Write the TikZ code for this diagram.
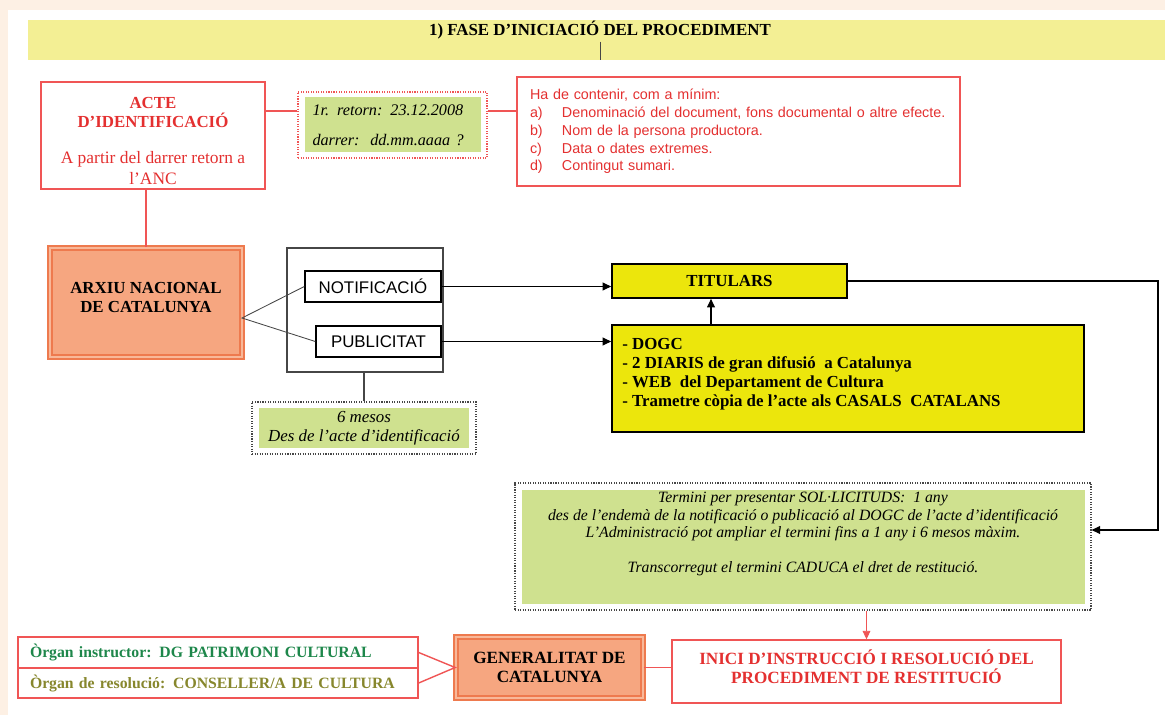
\documentclass[tikz,border=0pt]{standalone}
\usepackage{fontspec}
\setmainfont{Liberation Serif}
\newfontfamily\arialfam{Liberation Sans}
\usetikzlibrary{positioning,arrows.meta}

\definecolor{peach}{RGB}{253,240,228}
\definecolor{bandyellow}{RGB}{243,239,148}
\definecolor{redline}{RGB}{240,85,85}
\definecolor{redtext}{RGB}{228,48,48}
\definecolor{leaf}{RGB}{207,225,143}
\definecolor{ancfill}{RGB}{246,166,128}
\definecolor{ancline}{RGB}{238,122,78}
\definecolor{lemon}{RGB}{236,230,12}
\definecolor{organgreen}{RGB}{30,135,75}
\definecolor{organolive}{RGB}{135,135,45}
\definecolor{greyline}{RGB}{70,70,70}

\tikzset{
	redbox/.style={draw=redline, line width=1pt, fill=white, inner sep=0pt},
	dotbox/.style={draw=#1, densely dotted, line width=0.8pt, fill=white, inner sep=0pt},
	leafbox/.style={fill=leaf, inner sep=0pt},
	orangebox/.style={draw=ancline, double=ancfill!80!white, double distance=1.2pt, line width=1.2pt, fill=ancfill, inner sep=0pt, align=center, font=\fontsize{12}{13.5}\selectfont\bfseries},
	lemonbox/.style={draw=black, line width=1.2pt, fill=lemon, inner sep=0pt, font=\fontsize{12}{13.6}\selectfont\bfseries},
	whitebox/.style={draw=black, line width=1pt, fill=white, inner sep=0pt, font=\arialfam\fontsize{12}{14}\selectfont},
	blackarrow/.style={line width=0.8pt, -{Triangle[length=6pt,width=5.5pt]}},
	redarrow/.style={draw=redline, line width=0.6pt, -{Triangle[length=6pt,width=5.5pt]}}
}

\begin{document}
\begin{tikzpicture}
			%%%%% START %%%%%
			\useasboundingbox (0, 0) rectangle (29.125, -17.875);
			\fill[peach] (0, 0) rectangle (29.125, -17.875);
			\fill[white] (0.2, -0.25) rectangle (29.125, -17.875);
			
			% title band
			\node[fill=bandyellow, minimum width=28.425cm, minimum height=1cm, inner sep=0pt] (band) at (14.9125, -1.0) {};
			\node[font=\fontsize{12}{14}\selectfont\bfseries, inner sep=2pt] (title) at (15.0, -0.74) {1) FASE D’INICIACIÓ DEL PROCEDIMENT};
			\draw[greyline, line width=0.6pt] (title.south) -- (title.south |- band.south);
			
			% acte d'identificacio
			\node[redbox, minimum width=5.6cm, minimum height=2.675cm, align=center, text=redtext, font=\fontsize{12.4}{13}\selectfont] (acte) at (3.825, -3.3875) {\textbf{\fontsize{12}{13}\selectfont ACTE}\\ \textbf{\fontsize{12}{13}\selectfont D’IDENTIFICACIÓ}\\[13pt] A partir del darrer retorn a\\[2pt] l’ANC\\[-21pt]};
			
			\node[dotbox=redline, minimum width=4.725cm, minimum height=1.65cm] (dateouter) at (9.8125, -3.125) {};
			\node[leafbox, text width=4.0cm, inner xsep=0.2cm, minimum height=1.375cm, align=left, font=\fontsize{11.5}{12.5}\selectfont\itshape] (date) at (9.8125, -3.125) {1r. retorn: 23.12.2008\\[9pt] darrer:\ \ dd.mm.aaaa ?};
			
			\node[redbox, text width=10.425cm, inner xsep=0.325cm, minimum height=2.725cm, align=left, text=redtext, font=\arialfam\fontsize{10.2}{12.6}\selectfont] (list) at (18.4625, -3.2875) {Ha de contenir, com a mínim:\\
				\makebox[0.8cm][l]{a)}Denominació del document, fons documental o altre efecte.\\
				\makebox[0.8cm][l]{b)}Nom de la persona productora.\\
				\makebox[0.8cm][l]{c)}Data o dates extremes.\\
				\makebox[0.8cm][l]{d)}Contingut sumari.};
			
			\coordinate (link) at (0, -2.775);
			\draw[redline, line width=1pt] (acte.east |- link) -- (dateouter.west |- link);
			\draw[redline, line width=1pt] (dateouter.east |- link) -- (list.west |- link);
			
			% arxiu nacional
			\node[orangebox, minimum width=4.8cm, minimum height=2.725cm] (anc) at (3.65, -7.5625) {ARXIU NACIONAL\\DE CATALUNYA\\[-6.5pt]};
			\draw[redline, line width=1pt] (anc.north) -- (anc.north |- acte.south);
			
			\node[draw=greyline, line width=1.3pt, minimum width=3.9cm, minimum height=3.1cm, inner sep=0pt] (big) at (9.125, -7.75) {};
			\node[whitebox, minimum width=3.4cm, minimum height=0.775cm] (notif) at (9.325, -7.1625) {NOTIFICACIÓ};
			\node[whitebox, minimum width=3.125cm, minimum height=0.775cm] (pub) at (9.4625, -8.5375) {PUBLICITAT};
			
			\coordinate (fork) at (6.05, -7.95);
			\draw[greyline, line width=0.6pt] (notif.west) -- (fork) -- (pub.west);
			
			\node[dotbox=greyline, minimum width=5.6cm, minimum height=1.3cm] (six) at (9.1, -10.7) {};
			\node[leafbox, minimum width=5.25cm, minimum height=1.0cm, align=center, font=\fontsize{12}{13.5}\selectfont\itshape] (sixtext) at (9.1, -10.7) {6 mesos\\Des de l'acte d'identificació};
			\draw[greyline, line width=1.3pt] (six.north) -- (six.north |- big.south);
			
			% titulars
			\node[lemonbox, minimum width=5.875cm, minimum height=0.85cm] (tit) at (18.2375, -7.025) {TITULARS};
			\node[lemonbox, minimum width=11.8cm, minimum height=2.675cm] (dogc) at (21.2, -9.4625) {};
			\node[anchor=north west, inner sep=0pt, align=left, font=\fontsize{12}{13.6}\selectfont\bfseries] (dogctext) at (15.55, -8.44) {- DOGC\\
				- 2 DIARIS de gran difusió\ \ a Catalunya\\
				- WEB\ \ del Departament de Cultura\\
				- Trametre còpia de l’acte als CASALS\ \ CATALANS};
			
			\draw[blackarrow] (notif.east) -- (notif.east -| tit.west);
			\draw[blackarrow] (pub.east) -- (pub.east -| dogc.west);
			\coordinate (up) at (17.775, 0);
			\draw[blackarrow] (up |- dogc.north) -- (up |- tit.south);
			
			% termini
			\node[dotbox=greyline, minimum width=14.4cm, minimum height=3.175cm] (term) at (20.075, -13.6625) {};
			\node[leafbox, minimum width=14.075cm, minimum height=2.85cm] (termfill) at (20.075, -13.6625) {};
			\node[align=center, font=\fontsize{11.2}{12.4}\selectfont\itshape, inner sep=0pt] (termtext) at (20.075, -13.35) {Termini per presentar SOL·LICITUDS:\ \ 1 any\\
				des de l'endemà de la notificació o publicació al DOGC de l'acte d'identificació\\
				L'Administració pot ampliar el termini fins a 1 any i 6 mesos màxim.\\[12.4pt]
				Transcorregut el termini CADUCA el dret de restitució.};
			
			\coordinate (corner) at (28.95, -13.25);
			\draw[blackarrow] (tit.east) -| (corner) -- (corner -| term.east);
			
			% inici
			\node[redbox, minimum width=9.725cm, minimum height=1.575cm, align=center, text=redtext, font=\fontsize{12.2}{13.5}\selectfont\bfseries] (ini) at (21.6625, -16.7875) {INICI D’INSTRUCCIÓ I RESOLUCIÓ DEL\\PROCEDIMENT DE RESTITUCIÓ\\[-6.5pt]};
			\draw[redarrow] (ini.north |- term.south) -- (ini.north);
			
			\node[orangebox, minimum width=4.675cm, minimum height=1.525cm, font=\fontsize{12.2}{13.5}\selectfont\bfseries] (gen) at (13.7375, -16.6875) {GENERALITAT DE\\CATALUNYA};
			\draw[redline, line width=1.2pt] (gen.east) -- (gen.east -| ini.west);
			
			% organs
			\node[redbox, text width=9.4cm, inner xsep=0.3cm, minimum height=0.775cm, align=left, text=organgreen, font=\fontsize{11.2}{12}\selectfont\bfseries] (org1) at (5.45, -16.3125) {Òrgan instructor: DG PATRIMONI CULTURAL};
			\node[redbox, text width=9.4cm, inner xsep=0.3cm, minimum height=0.75cm, align=left, text=organolive, font=\fontsize{11.2}{12}\selectfont\bfseries] (org2) at (5.45, -17.075) {Òrgan de resolució: CONSELLER/A DE CULTURA};
			\draw[redline, line width=1pt] (org1.east) -- (gen.west) -- (org2.east);
			
			%%%%% END %%%%%
\end{tikzpicture}
\end{document}
